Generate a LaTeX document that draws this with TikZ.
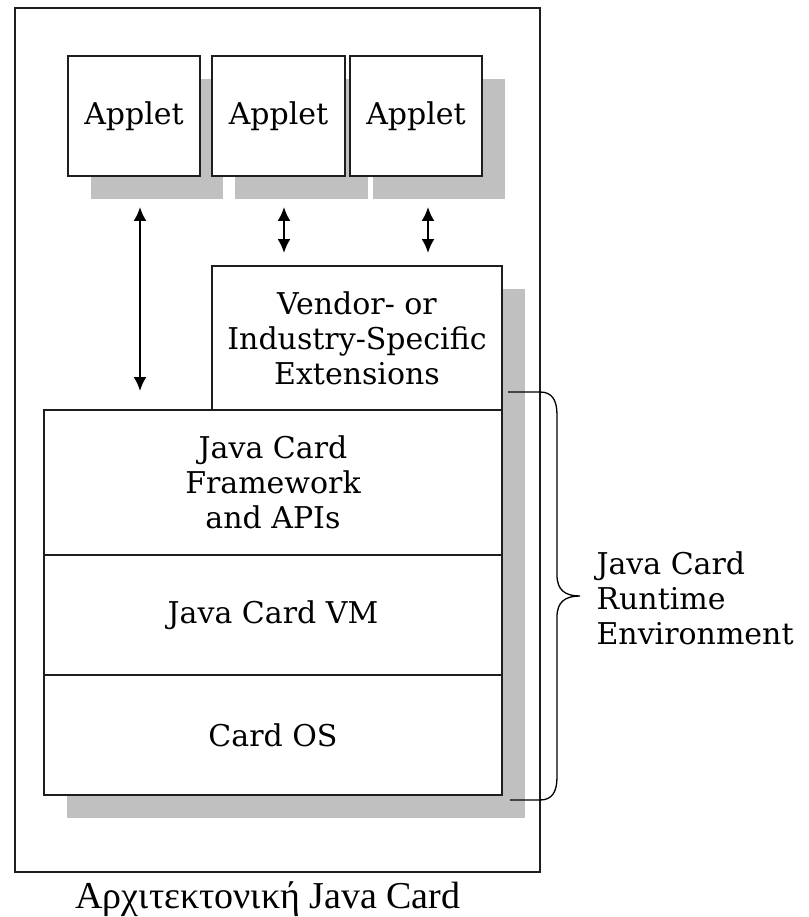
\documentclass[tikz,border=0pt]{standalone}
\usepackage{fontspec}
\setmainfont{DejaVu Serif}
\newfontfamily\captionfont{Liberation Serif}
\usepackage{tikz}
\usetikzlibrary{arrows.meta}
\usetikzlibrary{backgrounds}
\definecolor{jgray} {RGB}{192,192,192}
\definecolor{jline} {RGB}{30,30,30}
\tikzset{
    layer/.style={draw=jline, fill=white, line width=2pt, inner sep=0pt, outer sep=0pt, align=center,
             font=\fontsize{30}{35}\selectfont
    },
    applet/.style={layer, minimum width=132pt, minimum height=120pt},
    shade/.style={fill=jgray},
    dblarrow/.style={draw=black, line width=2pt, {Latex[length=14pt,width=13pt]}-{Latex[length=14pt,width=13pt]}},
    bracket/.style={draw=black, line width=1.3pt},
    frame/.style={draw=jline, line width=2pt}
  }
\begin{document}
\begin{tikzpicture}[x=1pt, y=-1pt]
 \useasboundingbox (0,0) rectangle (808,917);
 %Card frame
     \draw[frame] (15,8) rectangle (540,872);
 %Applets
     \node[applet] (app1) at (134,116) {Applet};
     \node[applet, minimum width=133pt] (app2) at (278.5,116) {Applet};
     \node[applet] (app3) at (416,116) {Applet};
 %Runtime layers
     \node[layer, minimum width=458pt, minimum height=145pt] (fw) at (273,482.5) {Java Card\\Framework\\and APIs};
     \node[layer, minimum width=458pt, minimum height=120pt, anchor=north] (vm) at (fw.south) {Java Card VM};
     \node[layer, minimum width=458pt, minimum height=120pt, anchor=north] (os) at (vm.south) {Card OS};
 %Extensions
     \node[layer, minimum width=290pt, minimum height=144pt, anchor=south east] (ext) at (fw.north east) {Vendor- or\\Industry-Specific\\Extensions};
 %Shadows
     \begin{scope}[on background layer]
       \foreach \a in {app1,app2,app3,ext}
         \fill[shade] ([shift={(23,23)}]\a.north west) rectangle ([shift={(23,23)}]\a.south east);
       \fill[shade] ([shift={(23,23)}]fw.north west) rectangle ([shift={(23,23)}]os.south east);
     \end{scope}
 %Applet links
     \draw[dblarrow] ([xshift=6pt,yshift=-31pt]app1.south) -- ([xshift=6pt,yshift=19pt]app1.south |- fw.north);
     \draw[dblarrow] ([xshift=5.5pt,yshift=-31pt]app2.south) -- ([xshift=5.5pt,yshift=13pt]app2.south |- ext.north);
     \draw[dblarrow] ([xshift=12pt,yshift=-31pt]app3.south) -- ([xshift=12pt,yshift=13pt]app3.south |- ext.north);
 %Runtime brace
     \coordinate (bt) at ([xshift=6pt,yshift=18pt]fw.north east);
     \coordinate (bb) at ([xshift=8pt,yshift=-5pt]os.south east);
     \draw[bracket] (bt) -- (540,392) .. controls (552,392) and (557,400) .. (557,415)
        -- (557,575) .. controls (557,590) and (565,596) .. (580,596)
        .. controls (565,596) and (557,602) .. (557,617)
        -- (557,777) .. controls (557,792) and (552,800) .. (540,800) -- (bb);
     \node[anchor=west, align=left, font=\fontsize{30}{35}\selectfont] (rte) at (593,598) {Java Card\\Runtime\\Environment};
 %Caption
     \node[anchor=base, font=\captionfont\fontsize{38}{40}\selectfont] (cap) at (268,908) {Αρχιτεκτονική Java Card};
\end{tikzpicture}
\end{document}
